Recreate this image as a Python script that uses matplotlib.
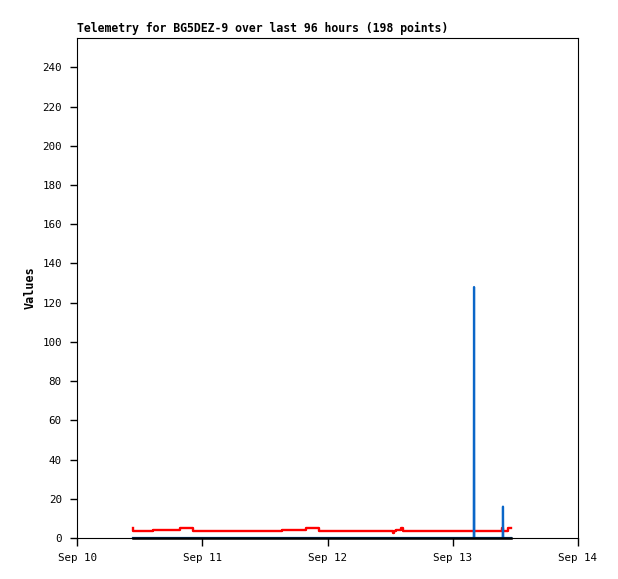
import matplotlib
matplotlib.use('Agg')
import matplotlib.pyplot as plt
import numpy as np
from datetime import datetime, timedelta

t0 = datetime(2024, 9, 10)

# tempos em dias a partir de Sep 10 00:00
red_days = [0.447, 0.450, 0.607, 0.822, 0.926, 1.637, 1.828, 1.930,
            2.520, 2.528, 2.547, 2.587, 2.603, 3.393, 3.398, 3.420, 3.440, 3.465]
red_vals = [5.0, 3.8, 4.2, 4.9, 3.8, 4.2, 4.9, 3.8,
            2.7, 3.8, 4.2, 4.9, 3.8, 5.0, 3.8, 3.8, 4.9, 4.9]

blue_days = [0.447, 3.168, 3.170, 3.172, 3.399, 3.401, 3.403, 3.465]
blue_vals = [0, 0, 128, 0, 0, 16, 0, 0]

black_days = [0.447, 3.465]
black_vals = [0, 0]

x_ticks = ['Sep 10', 'Sep 11', 'Sep 12', 'Sep 13', 'Sep 14']
y_ticks = list(range(0, 241, 20))


def to_dt(days):
    return [t0 + timedelta(days=d) for d in days]


plt.rcParams['font.family'] = 'DejaVu Sans Mono'

fig = plt.figure(figsize=(6.18, 5.79), dpi=100)
ax = fig.add_axes([77 / 618, 41 / 579, 501 / 618, 500 / 579])

ax.plot(to_dt(red_days), red_vals, color='#ff0000', lw=1.7, drawstyle='steps-post', zorder=3)
ax.plot(to_dt(blue_days), blue_vals, color='#0a66c8', lw=1.6, zorder=4)
ax.plot(to_dt(black_days), black_vals, color='black', lw=1.8, zorder=5, clip_on=False)

ax.set_xlim(t0, t0 + timedelta(days=4))
ax.set_ylim(0, 255)
ax.set_xticks(to_dt(range(5)))
ax.set_xticklabels(x_ticks, fontsize=7.8)
ax.set_yticks(y_ticks)
ax.set_yticklabels([str(v) for v in y_ticks], fontsize=7.8)
ax.tick_params(axis='y', direction='out', length=5, width=1, pad=6)
ax.tick_params(axis='x', direction='out', length=6, width=1, pad=5)
ax.set_ylabel('Values', fontsize=8.5, fontweight='bold', labelpad=4)
ax.set_title('Telemetry for BG5DEZ-9 over last 96 hours (198 points)',
             loc='left', fontsize=8.3, fontweight='bold', pad=4)
for s in ax.spines.values():
    s.set_linewidth(0.8)

fig.savefig('out.png', dpi=100)
plt.close()
